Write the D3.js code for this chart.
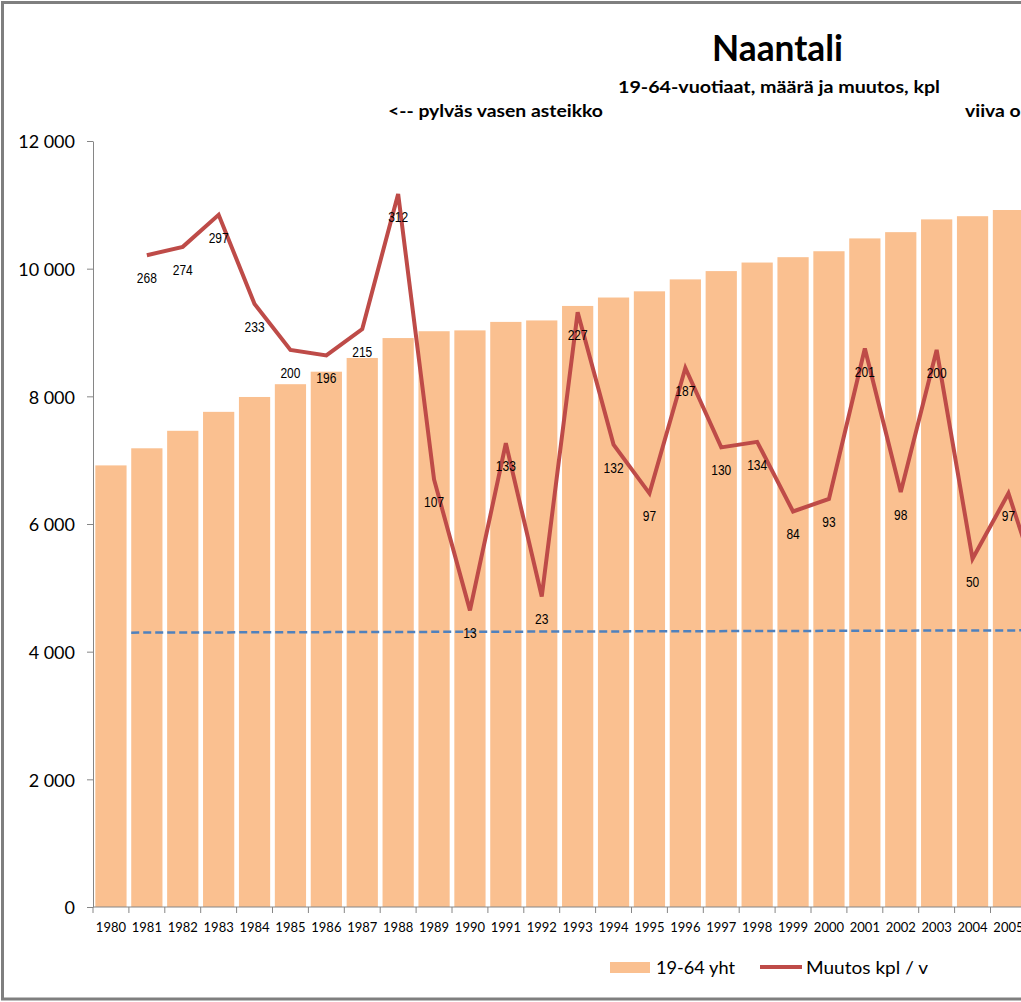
<!DOCTYPE html>
<html>
<head>
<meta charset="utf-8">
<script src="https://cdn.jsdelivr.net/npm/d3@7"></script>
<style>
  html, body { margin: 0; padding: 0; background: #fff; overflow: hidden; }
  svg { display: block; }
</style>
</head>
<body>
<svg id="chart" width="1021" height="1002"></svg>
<script>
// ---- data ----
const years = [1980,1981,1982,1983,1984,1985,1986,1987,1988,1989,1990,1991,1992,1993,1994,1995,1996,1997,1998,1999,2000,2001,2002,2003,2004,2005,2006];
const population = [6918,7186,7460,7757,7990,8190,8386,8601,8913,9020,9033,9166,9189,9416,9548,9645,9832,9962,10096,10180,10273,10474,10572,10772,10822,10919,10937];
const changeYears = [1981,1982,1983,1984,1985,1986,1987,1988,1989,1990,1991,1992,1993,1994,1995,1996,1997,1998,1999,2000,2001,2002,2003,2004,2005,2006];
const changes = [268,274,297,233,200,196,215,312,107,13,133,23,227,132,97,187,130,134,84,93,201,98,200,50,97,18];
const leftTicks = [0,2000,4000,6000,8000,10000,12000];
const rightDomain = [-200, 350];
const trendYears = [1981, 2006];
const trendValues = [-3.0, -1.3];

const svg = d3.select("#chart");
const W = 1021, H = 1002;

// frame
svg.append("rect").attr("x", 2.5).attr("y", 2.5).attr("width", W + 10).attr("height", H - 5.5)
  .attr("fill", "#fff").attr("stroke", "#7f7f7f").attr("stroke-width", 3);

const plotTop = 141, plotBottom = 907, axisX = 93, step = 35.9;
const yLeft = d3.scaleLinear().domain([0, 12000]).range([plotBottom, plotTop]);
const yRight = d3.scaleLinear().domain(rightDomain).range([plotBottom, plotTop]);
const pad = 0.13;
const x = d3.scaleBand().domain(years).range([axisX, axisX + step * years.length])
  .paddingInner(pad).paddingOuter(pad / 2);
const bw = x.bandwidth();
const cx = d => x(d) + bw / 2;

// bars
svg.append("g").selectAll("rect").data(years).join("rect")
  .attr("x", d => x(d)).attr("width", bw)
  .attr("y", (d, i) => yLeft(population[i]))
  .attr("height", (d, i) => plotBottom - yLeft(population[i]))
  .attr("fill", "#FAC090");

// left axis
const fmt = d => d3.format(",")(d).replace(/,/g, " ");
const gy = svg.append("g").attr("transform", `translate(${axisX},0)`)
  .call(d3.axisLeft(yLeft).tickValues(leftTicks).tickSize(6).tickSizeOuter(0).tickPadding(12).tickFormat(fmt));
gy.select(".domain").attr("stroke", "#868686");
gy.selectAll(".tick line").attr("stroke", "#868686");
gy.selectAll(".tick text").attr("font-family", "Lato, sans-serif").attr("font-size", 18)
  .attr("fill", "#000").attr("dy", "0.38em");

// bottom axis
const gx = svg.append("g").attr("transform", `translate(0,${plotBottom})`)
  .call(d3.axisBottom(x).tickSize(0).tickPadding(15.5));
gx.select(".domain").remove();
gx.selectAll(".tick").filter(d => cx(d) > W).remove();
gx.selectAll(".tick text").attr("font-family", "Lato, sans-serif").attr("font-size", 13).attr("fill", "#000");
svg.append("line").attr("x1", axisX).attr("x2", W + 10).attr("y1", plotBottom).attr("y2", plotBottom)
  .attr("stroke", "#868686").attr("stroke-width", 1);
svg.append("g").selectAll("line").data(years).join("line")
  .attr("x1", d => x(d) - x.step() * pad / 2).attr("x2", d => x(d) - x.step() * pad / 2)
  .attr("y1", plotBottom).attr("y2", plotBottom + 6)
  .attr("stroke", "#868686").attr("stroke-width", 1);

// trend (dashed)
const trendX = [x(trendYears[0]), x(trendYears[1]) + bw];
svg.append("line")
  .attr("x1", trendX[0]).attr("x2", trendX[1])
  .attr("y1", yRight(trendValues[0])).attr("y2", yRight(trendValues[1]))
  .attr("stroke", "#4F81BD").attr("stroke-width", 2.5).attr("stroke-dasharray", "8,4");

// change line
const line = d3.line().x((d, i) => cx(changeYears[i])).y(d => yRight(d));
svg.append("path").datum(changes).attr("d", line)
  .attr("fill", "none").attr("stroke", "#BE4B48").attr("stroke-width", 4).attr("stroke-linejoin", "miter");

// data labels (narrow look)
const labelData = changes.map((v, i) => ({ v, yr: changeYears[i] })).filter(d => cx(d.yr) < W);
svg.append("g").selectAll("text").data(labelData).join("text")
  .attr("x", d => cx(d.yr))
  .attr("y", d => yRight(d.v) + 28)
  .attr("text-anchor", "middle")
  .attr("font-family", "'Liberation Sans', Arial, sans-serif")
  .attr("font-size", 15).attr("fill", "#000")
  .text(d => d.v)
  .each(function () {
    const n = this.getComputedTextLength();
    d3.select(this).attr("textLength", n * 0.8).attr("lengthAdjust", "spacingAndGlyphs");
  });

// titles
function txt(str, xx, yy, size, weight, anchor, len) {
  const t = svg.append("text").attr("x", xx).attr("y", yy)
    .attr("font-family", "Lato, sans-serif").attr("font-size", size).attr("font-weight", weight)
    .attr("text-anchor", anchor).attr("fill", "#000").text(str);
  if (len) t.attr("textLength", len).attr("lengthAdjust", "spacingAndGlyphs");
  return t;
}
txt("Naantali", 777.5, 61, 36, "bold", "middle", 131);
txt("19-64-vuotiaat, määrä ja muutos, kpl", 779, 93, 17, "bold", "middle", 322);
const leftNote = txt("<-- pylväs vasen asteikko", 388, 117, 17, "bold", "start");
const natL = leftNote.node().getComputedTextLength();
const ratio = 215 / natL;
leftNote.attr("textLength", 215).attr("lengthAdjust", "spacingAndGlyphs");
const rightNote = txt("viiva oikea asteikko -->", 965, 117, 17, "bold", "start");
const natR = rightNote.node().getComputedTextLength();
rightNote.attr("textLength", natR * ratio).attr("lengthAdjust", "spacingAndGlyphs");

// legend
svg.append("rect").attr("x", 610).attr("y", 962).attr("width", 40).attr("height", 11).attr("fill", "#FAC090");
txt("19-64 yht", 656, 973.5, 18, "normal", "start", 79);
svg.append("line").attr("x1", 760).attr("x2", 802).attr("y1", 967).attr("y2", 967)
  .attr("stroke", "#BE4B48").attr("stroke-width", 4);
txt("Muutos kpl / v", 806, 973.5, 18, "normal", "start", 122);
</script>
</body>
</html>
